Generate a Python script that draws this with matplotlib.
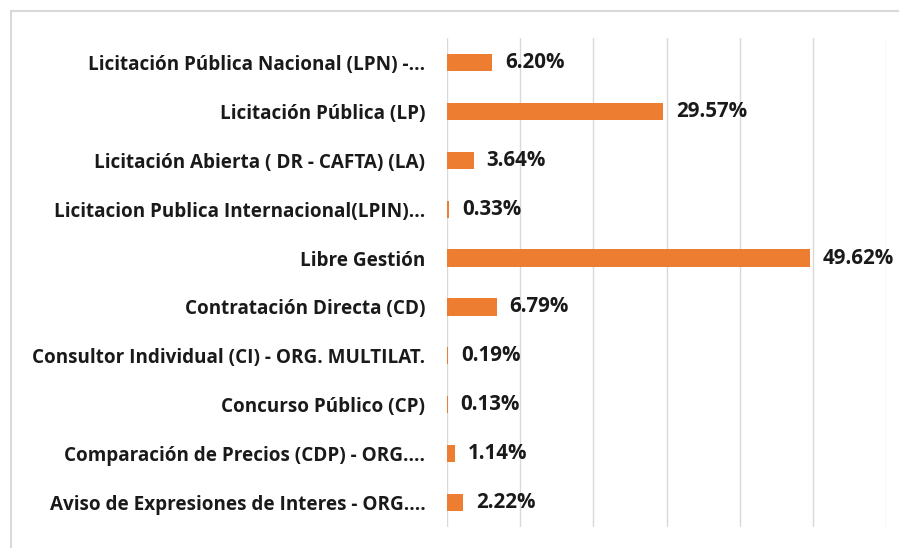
import matplotlib.pyplot as plt
from matplotlib.patches import Rectangle

categorias = [
    "Licitación Pública Nacional (LPN) -...",
    "Licitación Pública (LP)",
    "Licitación Abierta ( DR - CAFTA) (LA)",
    "Licitacion Publica Internacional(LPIN)...",
    "Libre Gestión",
    "Contratación Directa (CD)",
    "Consultor Individual (CI) - ORG. MULTILAT.",
    "Concurso Público (CP)",
    "Comparación de Precios (CDP) - ORG....",
    "Aviso de Expresiones de Interes - ORG....",
]
porcentajes = [6.20, 29.57, 3.64, 0.33, 49.62, 6.79, 0.19, 0.13, 1.14, 2.22]

W, H = 899, 548
fig = plt.figure(figsize=(W / 100, H / 100), dpi=100)
plt.rcParams['font.family'] = ['Open Sans', 'DejaVu Sans']

# marco gris del grafico
fig.patches.append(Rectangle((11 / W, -0.05), 1.0, 1 - 11 / H + 0.05, transform=fig.transFigure,
                             fill=False, edgecolor='#D9D9D9', linewidth=1.5))

ax = fig.add_axes([447 / W, 1 - 527 / H, (886 - 447) / W, (527 - 38) / H])
y = range(len(categorias))
ax.barh(y, porcentajes, height=0.35, color='#ED7D31', zorder=3)
ax.set_xlim(0, 60)
ax.set_ylim(len(categorias) - 0.5, -0.5)
ax.set_xticks(range(0, 61, 10))
ax.xaxis.grid(True, color='#D9D9D9', linewidth=1)
ax.tick_params(axis='x', bottom=False, labelbottom=False)
ax.tick_params(axis='y', left=False, pad=12)
ax.set_yticks(list(y))
ax.set_yticklabels(categorias, fontsize=13.6, fontweight='bold', color='#1a1a1a')
for s in ax.spines.values():
    s.set_visible(False)

for i, v in enumerate(porcentajes):
    ax.text(v + 1.7, i, f"{v:.2f}%", va='center', ha='left', fontsize=14.8,
            fontweight='bold', color='#1a1a1a')

fig.savefig('out.png', dpi=100)
